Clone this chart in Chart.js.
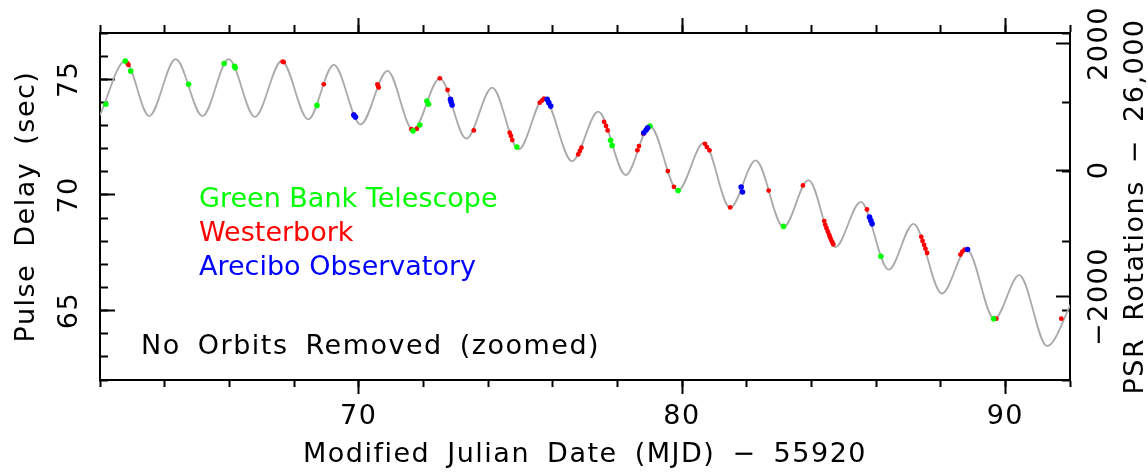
<!DOCTYPE html>
<html>
<head>
<meta charset="utf-8">
<script src="https://cdn.jsdelivr.net/npm/chart.js@4.4.1/dist/chart.umd.min.js"></script>
<style>
    html, body { margin: 0; padding: 0; background: #fff; }
    #wrap { width: 1148px; height: 473px; }
</style>
</head>
<body>
<div id="wrap"><canvas id="timing" width="1148" height="473"></canvas></div>
<script>
// timing model, sampled at its turning points (MJD - 55920, delay in sec)
const curveMJD = [62.00, 62.78, 63.52, 64.34, 65.17, 65.98, 66.79, 67.62, 68.44, 69.23,
    70.06, 70.89, 71.68, 72.51, 73.33, 74.13, 74.95, 75.73, 76.60, 77.41,
    78.26, 79.01, 79.87, 80.68, 81.49, 82.28, 83.14, 83.91, 84.74, 85.53,
    86.39, 87.16, 88.04, 88.81, 89.66, 90.43, 91.29, 92.07];
const curveDelay = [73.45, 75.79, 73.41, 75.87, 73.41, 75.87, 73.37, 75.79, 73.27, 75.62,
    73.05, 75.36, 72.81, 75.04, 72.43, 74.64, 71.97, 74.18, 71.46, 73.60,
    70.86, 72.98, 70.19, 72.26, 69.44, 71.49, 68.61, 70.64, 67.74, 69.70,
    66.77, 68.75, 65.74, 67.64, 64.64, 66.53, 63.47, 65.40];

// TOAs, Green Bank
const gbtMJD = [62.18, 62.78, 62.95, 64.74, 65.84, 66.16, 66.18, 68.71, 71.68, 71.89,
    72.11, 72.16, 74.89, 77.79, 77.84, 79.01, 79.88, 83.14, 86.15, 89.64];
const gbtDelay = [73.92, 75.79, 75.36, 74.78, 75.68, 75.56, 75.50, 73.87, 72.77, 73.02,
    74.06, 73.92, 72.07, 72.36, 72.14, 72.98, 70.19, 68.64, 67.35, 64.65];

// TOAs, Westerbork
const wsrtMJD = [62.85, 62.88, 67.65, 67.68, 68.92, 69.85, 70.58, 70.60, 70.62, 71.63,
    71.80, 72.51, 72.75, 73.56, 74.67, 74.71, 74.75, 75.60, 75.67, 75.73,
    76.79, 76.84, 76.89, 77.59, 77.65, 77.70, 78.62, 78.67, 78.80, 79.56,
    79.75, 80.71, 80.77, 80.85, 81.49, 82.68, 83.74, 84.40, 84.43, 84.47,
    84.51, 84.55, 84.58, 84.61, 84.65, 84.68, 85.72, 87.40, 87.44, 87.49,
    87.53, 87.58, 88.61, 88.67, 88.74, 89.72, 91.73];
const wsrtDelay = [75.69, 75.62, 75.76, 75.74, 74.78, 73.47, 74.78, 74.71, 74.64, 72.84,
    72.86, 75.04, 74.54, 72.79, 72.69, 72.55, 72.37, 73.99, 74.08, 74.16,
    71.75, 71.90, 72.04, 73.16, 72.98, 72.79, 71.93, 72.11, 72.65, 71.03,
    70.35, 72.21, 72.07, 71.93, 69.46, 70.19, 70.41, 68.87, 68.71, 68.56,
    68.42, 68.28, 68.17, 68.06, 67.96, 67.86, 69.37, 68.19, 68.01, 67.84,
    67.67, 67.49, 67.42, 67.55, 67.64, 64.65, 64.65];

// TOAs, Arecibo
const aoMJD = [69.85, 69.90, 72.84, 72.86, 72.89, 75.83, 75.88, 75.94, 78.82, 78.89,
    78.94, 81.83, 81.87, 85.80, 85.84, 85.88, 88.83];
const aoDelay = [73.45, 73.37, 74.13, 74.02, 73.89, 74.13, 73.99, 73.84, 72.69, 72.81,
    72.90, 70.34, 70.13, 69.04, 68.89, 68.75, 67.64];

const mjdTicks = [70, 80, 90];
const delayTicks = [65, 70, 75];
const rotationTicks = [-2000, 0, 2000];

const FONT = 'DejaVu Sans';
const axisFont = { family: FONT, size: 27 };
const frame = { display: true, color: '#000', width: 2 };

const toPoints = (xs, ys) => xs.map((x, i) => ({ x, y: ys[i] }));
const fixTicks = values => scale => { scale.ticks = values.map(value => ({ value })); };
const minus = v => (v < 0 ? '\u2212' + Math.abs(v) : String(v));

// every axis box gets an exact size and no label overhang
const sized = (key, px) => scale => {
    scale[key] = px;
    scale.paddingTop = scale.paddingBottom = scale.paddingLeft = scale.paddingRight = 0;
};

const ticksGrid = len => ({
    drawOnChartArea: false,
    tickLength: len,
    tickWidth: 2,
    tickColor: '#000',
});

const wideText = ctx => {
    ctx.letterSpacing = '1.5px';
    ctx.wordSpacing = '7px';
};
const plainText = ctx => {
    ctx.letterSpacing = '0px';
    ctx.wordSpacing = '0px';
};

// legend, annotation and right-hand title
const overlayText = {
    id: 'overlayText',
    beforeDraw(chart) {
        wideText(chart.ctx);
    },
    afterDraw(chart) {
        const { ctx, chartArea, scales } = chart;
        ctx.save();
        ctx.font = `27px "${FONT}"`;
        ctx.textAlign = 'left';
        ctx.textBaseline = 'alphabetic';
        ctx.fillStyle = '#000';
        ctx.fillText('No Orbits Removed (zoomed)', chartArea.left + 41, chartArea.top + 321);

        plainText(ctx);
        [1, 2, 3].forEach((idx, i) => {
            const ds = chart.data.datasets[idx];
            ctx.fillStyle = ds.backgroundColor;
            ctx.fillText(ds.label, chartArea.left + 99, chartArea.top + 174 + i * 34.2);
        });

        wideText(ctx);
        ctx.fillStyle = '#000';
        ctx.textAlign = 'center';
        ctx.translate(scales.y2.right - 5, (chartArea.top + chartArea.bottom) / 2);
        ctx.rotate(-Math.PI / 2);
        ctx.fillText('PSR Rotations \u2212 26,000', 0, 0);
        ctx.restore();

        plainText(ctx);
    },
};

Chart.defaults.font.family = FONT;
Chart.defaults.color = '#000';

new Chart(document.getElementById('timing'), {
    type: 'scatter',
    data: {
        datasets: [
            {
                type: 'line',
                label: 'Timing model',
                data: toPoints(curveMJD, curveDelay),
                borderColor: '#aaaaaa',
                borderWidth: 1.8,
                pointRadius: 0,
                cubicInterpolationMode: 'monotone',
                order: 3,
            },
            {
                label: 'Green Bank Telescope',
                data: toPoints(gbtMJD, gbtDelay),
                backgroundColor: '#00ff00',
                pointBackgroundColor: '#00ff00',
                pointBorderWidth: 0,
                pointRadius: 2.8,
                order: 1,
            },
            {
                label: 'Westerbork',
                data: toPoints(wsrtMJD, wsrtDelay),
                backgroundColor: '#ff0000',
                pointBackgroundColor: '#ff0000',
                pointBorderWidth: 0,
                pointRadius: 2.4,
                order: 2,
            },
            {
                label: 'Arecibo Observatory',
                data: toPoints(aoMJD, aoDelay),
                backgroundColor: '#0000ff',
                pointBackgroundColor: '#0000ff',
                pointBorderWidth: 0,
                pointRadius: 2.8,
                order: 0,
            },
        ],
    },
    options: {
        responsive: false,
        animation: false,
        devicePixelRatio: 1,
        events: [],
        layout: { padding: 0, autoPadding: false },
        plugins: {
            legend: { display: false },
            tooltip: { enabled: false },
        },
        scales: {
            x: {
                type: 'linear', position: 'bottom', min: 62, max: 92, weight: 1,
                afterBuildTicks: fixTicks(mjdTicks),
                afterFit: sized('height', 93),
                grid: ticksGrid(14),
                border: frame,
                ticks: { font: axisFont, padding: 7, autoSkip: false, maxRotation: 0 },
                title: {
                    display: true,
                    text: 'Modified Julian Date (MJD) \u2212 55920',
                    font: axisFont,
                    padding: { top: 0, bottom: 2 },
                },
            },
            xMinor: {
                type: 'linear', axis: 'x', position: 'bottom', min: 62, max: 92, weight: 0,
                afterFit: sized('height', 0),
                grid: ticksGrid(7),
                border: frame,
                ticks: { display: false, stepSize: 2 },
            },
            xTop: {
                type: 'linear', axis: 'x', position: 'top', min: 62, max: 92, weight: 1,
                afterBuildTicks: fixTicks(mjdTicks),
                afterFit: sized('height', 33),
                grid: ticksGrid(15),
                border: frame,
                ticks: { display: false },
            },
            xTopMinor: {
                type: 'linear', axis: 'x', position: 'top', min: 62, max: 92, weight: 0,
                afterFit: sized('height', 0),
                grid: ticksGrid(8),
                border: frame,
                ticks: { display: false, stepSize: 2 },
            },
            y: {
                type: 'linear', position: 'left', min: 62, max: 77, weight: 1,
                afterBuildTicks: fixTicks(delayTicks),
                afterFit: sized('width', 100),
                grid: ticksGrid(-15),
                border: frame,
                ticks: {
                    font: axisFont, padding: 28, autoSkip: false,
                    minRotation: 90, maxRotation: 90, crossAlign: 'center',
                },
                title: {
                    display: true,
                    text: 'Pulse Delay (sec)',
                    font: axisFont,
                    padding: { top: 11, bottom: 0 },
                },
            },
            yMinor: {
                type: 'linear', axis: 'y', position: 'left', min: 62, max: 77, weight: 0,
                afterFit: sized('width', 0),
                grid: ticksGrid(-8),
                border: frame,
                ticks: { display: false, stepSize: 1 },
            },
            y2: {
                type: 'linear', position: 'right', min: -3320, max: 2166, weight: 1,
                afterBuildTicks: fixTicks(rotationTicks),
                afterFit: sized('width', 78),
                grid: ticksGrid(-14),
                border: frame,
                ticks: {
                    font: axisFont, padding: -2, autoSkip: false,
                    minRotation: 90, maxRotation: 90, crossAlign: 'center',
                    callback: minus,
                },
            },
            y2Minor: {
                type: 'linear', axis: 'y', position: 'right', min: -3320, max: 2166, weight: 0,
                afterFit: sized('width', 0),
                grid: ticksGrid(-8),
                border: frame,
                ticks: { display: false, stepSize: 1000, includeBounds: false },
            },
        },
    },
    plugins: [overlayText],
});
</script>
</body>
</html>
